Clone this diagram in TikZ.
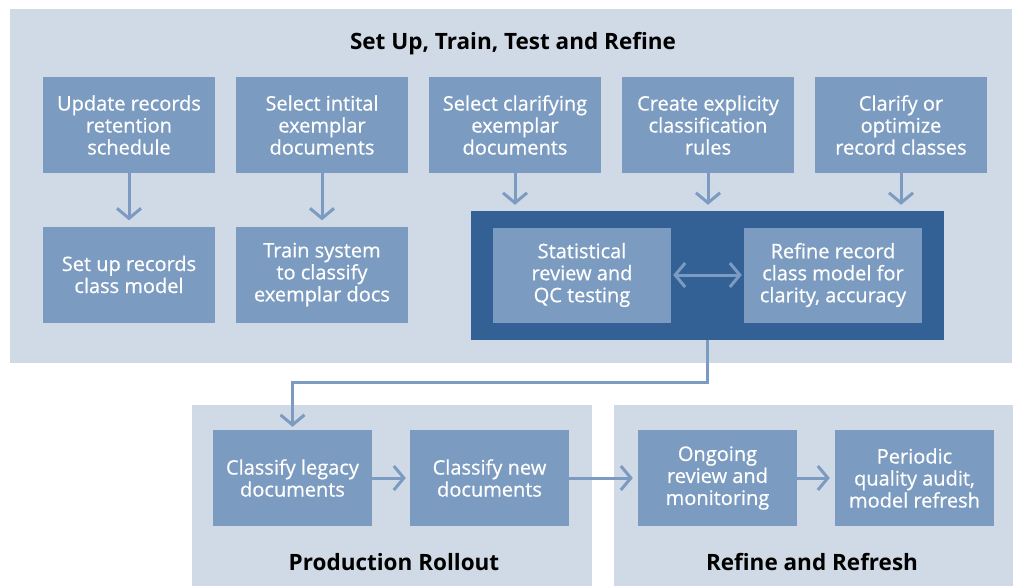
\documentclass[tikz,border=0pt]{standalone}
\usepackage{fontspec}
\setmainfont{Open Sans}
\newfontfamily\boxfont{Open Sans}[FakeBold=0.6]
\usetikzlibrary{arrows.meta}

\definecolor{panelbg}{HTML}{D0DAE6}
\definecolor{stepblue}{HTML}{7B9BC0}
\definecolor{loopblue}{HTML}{336095}

\tikzset{
  stepbox/.style={fill=stepblue, text=white, align=center,
    minimum width=172pt, minimum height=96pt, inner sep=0pt,
    font=\boxfont\fontsize{20}{22}\selectfont},
  smallbox/.style={stepbox, minimum width=159pt},
  loopbox/.style={stepbox, minimum width=178pt, minimum height=95pt},
  phase/.style={font=\fontsize{22.5}{26}\selectfont\bfseries, text=black},
  barb/.tip={Straight Barb[length=10pt, width=24pt, line width=3pt]},
  flow/.style={draw=stepblue, line width=3pt, -barb},
}

\begin{document}
\begin{tikzpicture}[x=1pt, y=-1pt]
    \useasboundingbox (0,0) rectangle (1014,586);

    % phase panels
    \fill[panelbg] (10,9) rectangle (1012,363);
    \fill[panelbg] (192,405) rectangle (592,586);
    \fill[panelbg] (614,405) rectangle (1013,586);

    \node[phase] (setup) at (513,44) {Set Up, Train, Test and Refine};
    \node[phase] (rollout) at (394,562) {Production Rollout};
    \node[phase] (refresh) at (812,562) {Refine and Refresh};

    % top row
    \node[stepbox] (update) at (129,125) {Update records\\retention\\schedule};
    \node[stepbox] (initial) at (322,125) {Select intital\\exemplar\\documents};
    \node[stepbox] (clarsel) at (515,125) {Select clarifying\\exemplar\\documents};
    \node[stepbox] (rules) at (708,125) {Create explicity\\classification\\rules};
    \node[stepbox] (classes) at (901,125) {Clarify or\\optimize\\record classes};

    % second row
    \node[stepbox] (model) at (129,274.5) {Set up records\\class model};
    \node[stepbox] (train) at (322,274.5) {Train system\\to classify\\exemplar docs};

    % review loop
    \node[fill=loopblue, minimum width=473pt, minimum height=129pt] (loop) at (707.5,275.5) {};
    \node[loopbox] (stats) at (582,275) {Statistical\\review and\\QC testing};
    \node[loopbox] (refine) at (833,275) {Refine record\\class model for\\clarity, accuracy};

    % rollout and refresh
    \node[smallbox] (legacy) at (292.5,478) {Classify legacy\\documents};
    \node[smallbox] (new) at (489.5,478) {Classify new\\documents};
    \node[smallbox] (ongoing) at (717.5,478) {Ongoing\\review and\\monitoring};
    \node[smallbox] (audit) at (914.5,478) {Periodic\\quality audit,\\model refresh};

    % arrows
    \draw[flow, shorten >=6pt] (update) -- (model);
    \draw[flow, shorten >=6pt] (initial) -- (train);
    \foreach \n in {clarsel, rules, classes} {
        \draw[flow, shorten >=6pt] (\n.south) -- (\n.south |- loop.north);
    }
    \draw[flow, barb-barb, shorten <=2pt, shorten >=2pt] (stats) -- (refine);
    \draw[flow, shorten >=3pt] (loop.south) -- ++(0,42) -| (legacy.north);
    \draw[flow, shorten >=4pt] (legacy) -- (new);
    \draw[flow, shorten >=5pt] (new) -- (ongoing);
    \draw[flow, shorten >=5pt] (ongoing) -- (audit);
\end{tikzpicture}
\end{document}
